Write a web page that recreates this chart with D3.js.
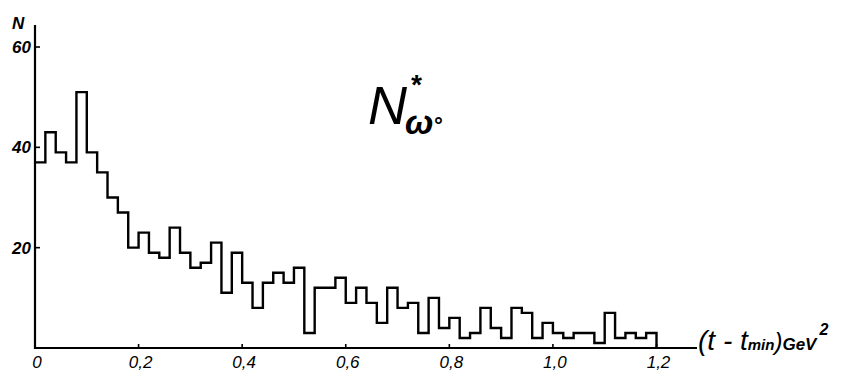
<!DOCTYPE html>
<html>
<head>
<meta charset="utf-8">
<script src="https://cdn.jsdelivr.net/npm/d3@7"></script>
<style>
  html, body { margin: 0; padding: 0; background: #fff; }
  svg { display: block; }
  text { font-family: "Liberation Sans", "DejaVu Sans", sans-serif; font-style: italic; fill: #000; }
</style>
</head>
<body>
<svg id="chart" width="849" height="376"></svg>
<script>
// ---- data ----
const binWidth = 0.02;
const binStart = 0;
const counts = [
  37, 43, 39, 37, 51, 39, 35, 30, 27, 20,
  23, 19, 18, 24, 19, 16, 17, 21, 11, 19,
  13, 8, 13, 15, 13, 16, 3, 12, 12, 14,
  9, 12, 9, 5, 12, 8, 9, 3, 10, 4,
  6, 2, 3, 8, 4, 2, 8, 7, 2, 5,
  3, 2, 3, 3, 1, 7, 2, 3, 2, 3
];
const xTickValues = [0, 0.2, 0.4, 0.6, 0.8, 1.0, 1.2];
const xTickLabels = ["0", "0,2", "0,4", "0,6", "0,8", "1,0", "1,2"];
const yTickValues = [20, 40, 60];
const yTickLabels = ["20", "40", "60"];

// ---- layout ----
const svg = d3.select("#chart");
const x = d3.scaleLinear().domain([0, 1.2]).range([35, 656.5]);
const y = d3.scaleLinear().domain([0, 60]).range([348, 47]);

// histogram as step line
const pts = [];
counts.forEach((c, i) => {
  const x0 = binStart + i * binWidth, x1 = x0 + binWidth;
  pts.push([x0, c], [x1, c]);
});
pts.push([binStart + counts.length * binWidth, 0]);
const line = d3.line().x(d => x(d[0])).y(d => y(d[1])).curve(d3.curveLinear);
svg.append("path")
  .attr("d", line(pts))
  .attr("fill", "none")
  .attr("stroke", "#000")
  .attr("stroke-width", 2.4)
  .attr("stroke-linejoin", "miter");

// axes lines
svg.append("line").attr("x1", x(0)).attr("x2", 697).attr("y1", y(0)).attr("y2", y(0))
  .attr("stroke", "#000").attr("stroke-width", 2.2);
svg.append("line").attr("x1", x(0)).attr("x2", x(0)).attr("y1", y(0) + 1).attr("y2", 25)
  .attr("stroke", "#000").attr("stroke-width", 2.2);

// x ticks
const xg = svg.append("g");
xTickValues.forEach((v, i) => {
  if (v > 0) {
    xg.append("line").attr("x1", x(v)).attr("x2", x(v)).attr("y1", y(0)).attr("y2", y(0) - 4)
      .attr("stroke", "#000").attr("stroke-width", 1.6);
  }
  xg.append("text")
    .attr("x", x(v) + 2)
    .attr("y", 368)
    .attr("text-anchor", "middle")
    .attr("font-size", 17)
    .text(xTickLabels[i]);
});

// y ticks
const yg = svg.append("g");
yTickValues.forEach((v, i) => {
  yg.append("line").attr("x1", x(0)).attr("x2", x(0) + 5).attr("y1", y(v)).attr("y2", y(v))
    .attr("stroke", "#000").attr("stroke-width", 1.6);
  yg.append("text")
    .attr("x", 31)
    .attr("y", y(v) + 6)
    .attr("text-anchor", "end")
    .attr("font-size", 17)
    .attr("font-weight", "bold")
    .text(yTickLabels[i]);
});

// y axis label
svg.append("text").attr("x", 12).attr("y", 29).attr("font-size", 17).attr("font-weight", "bold").text("N");

// x axis label
const xl = svg.append("text").attr("x", 698).attr("y", 350);
xl.append("tspan").attr("font-size", 28).text("(t - t");
xl.append("tspan").attr("font-size", 15).attr("font-weight", "bold").text("min");
xl.append("tspan").attr("font-size", 24).text(")");
xl.append("tspan").attr("font-size", 17).attr("font-weight", "bold").text("GeV");
xl.append("tspan").attr("font-size", 16).attr("font-weight", "bold").attr("dx", 3).attr("dy", -15).text("2");

// annotation: N*_ω°
svg.append("text").attr("x", 368).attr("y", 124).attr("font-size", 54).text("N");
svg.append("text").attr("x", 410).attr("y", 94).attr("font-size", 28).attr("font-weight", "bold").text("*");
svg.append("text").attr("x", 405).attr("y", 134).attr("font-size", 34).attr("font-weight", "bold").text("ω");
svg.append("text").attr("x", 433).attr("y", 133).attr("font-size", 22).attr("font-weight", "bold").text("°");
</script>
</body>
</html>
